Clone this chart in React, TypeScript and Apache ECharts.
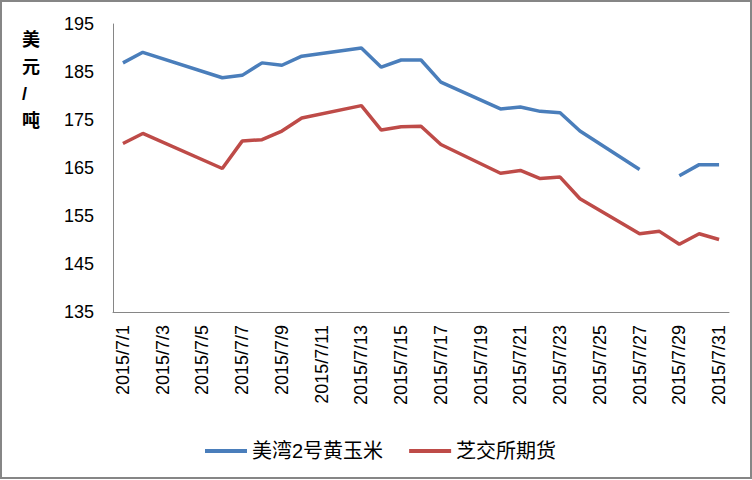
import React, { useEffect, useRef } from "react";
import * as echarts from "echarts";

const allDays: string[] = Array.from({ length: 31 }, (_, i) => `2015/7/${i + 1}`);
const tradeDays: string[] = [
  "2015/7/1", "2015/7/2", "2015/7/6", "2015/7/7", "2015/7/8", "2015/7/9", "2015/7/10",
  "2015/7/13", "2015/7/14", "2015/7/15", "2015/7/16", "2015/7/17",
  "2015/7/20", "2015/7/21", "2015/7/22", "2015/7/23", "2015/7/24",
  "2015/7/27", "2015/7/28", "2015/7/29", "2015/7/30", "2015/7/31",
];
const gulfCorn: (number | null)[] = [
  186.9, 189.1, 183.8, 184.3, 186.9, 186.4, 188.3,
  190.0, 186.0, 187.5, 187.5, 182.9,
  177.3, 177.7, 176.8, 176.5, 172.7,
  164.7, null, 163.4, 165.7, 165.7,
];
const cbotFutures: number[] = [
  170.1, 172.2, 164.9, 170.6, 170.9, 172.7, 175.4,
  178.0, 172.9, 173.6, 173.7, 169.9,
  163.9, 164.5, 162.8, 163.1, 158.6,
  151.3, 151.8, 149.1, 151.3, 150.1,
];
const seriesNames = ["美湾2号黄玉米", "芝交所期货"];
const yMin = 135;
const yMax = 195;
const yStep = 10;

const FONT = "'Liberation Sans', 'Noto Sans CJK SC', sans-serif";

export default function App() {
  const ref = useRef<HTMLDivElement>(null);
  useEffect(() => {
    if (!ref.current) return;
    const chart = echarts.init(ref.current, undefined, { renderer: "svg" });
    chart.setOption({
      animation: false,
      backgroundColor: "#ffffff",
      grid: { left: 113, top: 24, right: 23, bottom: 168, containLabel: false },
      legend: {
        top: 436,
        left: 200,
        icon: "rect",
        itemWidth: 42,
        itemHeight: 4,
        itemGap: 26,
        textStyle: { fontSize: 20, color: "#000", fontFamily: FONT },
        data: seriesNames,
      },
      xAxis: {
        type: "category",
        data: allDays,
        boundaryGap: true,
        axisLine: { lineStyle: { color: "#868686", width: 1 } },
        axisTick: { show: false },
        axisLabel: {
          interval: 1,
          rotate: 90,
          margin: 13,
          fontSize: 18,
          color: "#000",
          fontFamily: FONT,
        },
      },
      yAxis: {
        type: "value",
        min: yMin,
        max: yMax,
        interval: yStep,
        axisLine: { show: true, lineStyle: { color: "#868686", width: 1 } },
        axisTick: { show: false },
        splitLine: { show: false },
        axisLabel: { margin: 19, fontSize: 18, color: "#000", fontFamily: FONT },
      },
      graphic: [
        {
          type: "rect",
          shape: { x: 1, y: 1, width: 750, height: 477 },
          style: { fill: "none", stroke: "#868686", lineWidth: 2 },
          silent: true,
        },
        {
          type: "text",
          left: 22,
          top: 26,
          style: {
            text: "美\n元\n/\n吨",
            fontSize: 18,
            lineHeight: 27,
            fill: "#000",
            fontFamily: FONT,
            fontWeight: "bold",
          },
        },
      ],
      series: [
        {
          name: seriesNames[0],
          type: "line",
          data: tradeDays.map((d, i) => [d, gulfCorn[i] === null ? "-" : gulfCorn[i]]),
          connectNulls: false,
          showSymbol: false,
          symbol: "none",
          lineStyle: { color: "#4A7EBB", width: 3.5 },
          itemStyle: { color: "#4A7EBB" },
        },
        {
          name: seriesNames[1],
          type: "line",
          data: tradeDays.map((d, i) => [d, cbotFutures[i]]),
          showSymbol: false,
          symbol: "none",
          lineStyle: { color: "#BE4B48", width: 3.5 },
          itemStyle: { color: "#BE4B48" },
        },
      ],
    });
    return () => chart.dispose();
  }, []);
  return (
    <div
      ref={ref}
      style={{ position: "absolute", left: 0, top: 0, width: 752, height: 480 }}
    />
  );
}
